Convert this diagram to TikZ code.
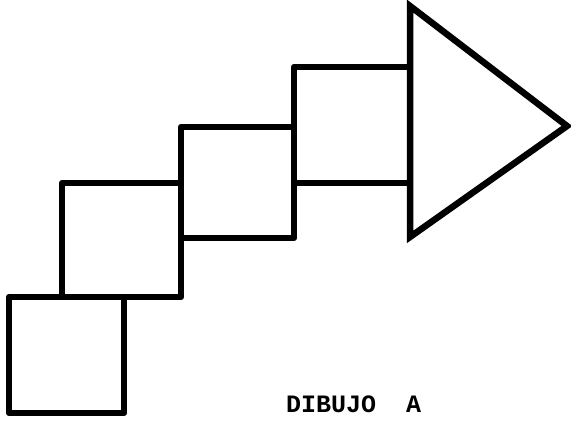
\documentclass[tikz,border=0pt]{standalone}
\usepackage{fontspec}
\newfontfamily\typewriter{Liberation Mono}
\usepackage{tikz}
\usetikzlibrary{positioning}

\begin{document}
\begin{tikzpicture}[
    x=1pt,
    y=-1pt,
    block/.style={
        draw,
        line width=6.5pt,
        line join=round,
        inner sep=0pt,
        outer sep=0pt,
        fill=none
    },
    arrowhead/.style={
        draw,
        line width=6.5pt,
        line join=miter
    },
    caption/.style={
        font=\typewriter\bfseries\fontsize{25}{25}\selectfont,
        inner sep=0pt,
        anchor=west
    }
]

\useasboundingbox (0,0) rectangle (571,422);

%------------------------------------------------------------------------------
% Staircase of squares
%------------------------------------------------------------------------------

\node[block, minimum width=115pt, minimum height=116pt] (stepOne)   at (66.5,355) {};
\node[block, minimum width=119pt, minimum height=114pt] (stepTwo)   at (121.5,240) {};
\node[block, minimum width=113pt, minimum height=111pt] (stepThree) at (237.5,182.5) {};
\node[block, minimum width=116pt, minimum height=116pt] (stepFour)  at (352,125) {};

%------------------------------------------------------------------------------
% Arrow head
%------------------------------------------------------------------------------

\coordinate (headTop)    at (410,6);
\coordinate (headTip)    at (567,126);
\coordinate (headBottom) at (410,237);

\draw[arrowhead] (headTop) -- (headTip) -- (headBottom) -- cycle;

%------------------------------------------------------------------------------
% Caption
%------------------------------------------------------------------------------

\node[caption] (drawingLabel) at (286,404) {DIBUJO\ \ A};

\end{tikzpicture}
\end{document}
